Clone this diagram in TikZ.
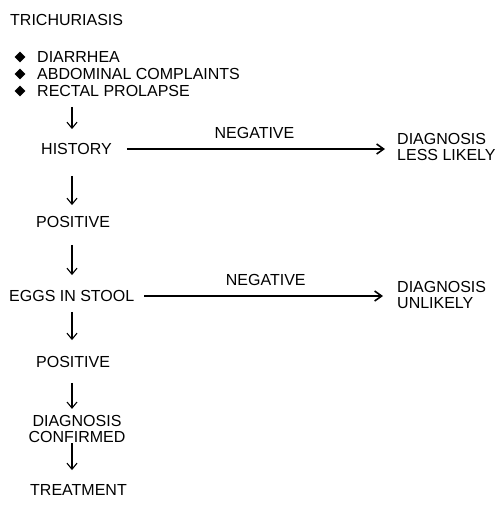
\documentclass[tikz,border=0pt]{standalone}
\usepackage{fontspec}
\setmainfont{Liberation Sans}
\usetikzlibrary{arrows.meta,shapes.geometric}

\tikzset{
  txt/.style={font=\fontsize{16}{16.5}\selectfont, inner sep=0pt,
    text height=11.5pt, text depth=0pt, anchor=west},
  twoline/.style={font=\fontsize{16}{16.5}\selectfont, inner sep=0pt, align=left, anchor=west},
  bullet/.style={diamond, fill=black, inner sep=0pt, minimum size=11pt},
  down/.style={-{Straight Barb[length=6pt,width=10pt]}, line width=1.1pt},
  side/.style={-{Straight Barb[length=7pt,width=10pt]}, line width=1.6pt},
}

\begin{document}
\begin{tikzpicture}[x=1pt, y=-1pt]
  \useasboundingbox (0,0) rectangle (499,509);
  \coordinate (col) at (72,0);

  \node[txt] (title) at (10,20) {TRICHURIASIS};

  \node[bullet] (b1) at (20,57) {};
  \node[bullet] (b2) at (20,74) {};
  \node[bullet] (b3) at (20,91) {};
  \node[txt] (s1) at (37,57) {DIARRHEA};
  \node[txt] (s2) at (37,74) {ABDOMINAL COMPLAINTS};
  \node[txt] (s3) at (37,91) {RECTAL PROLAPSE};

  \node[txt] (hist) at (41,149) {HISTORY};
  \node[twoline] (less) at (397,147) {DIAGNOSIS\\LESS LIKELY};
  \node[txt] (pos1) at (36,222) {POSITIVE};
  \node[txt] (eggs) at (9,296) {EGGS IN STOOL};
  \node[twoline] (unl) at (397,295) {DIAGNOSIS\\UNLIKELY};
  \node[txt] (pos2) at (36,362) {POSITIVE};
  \node[font=\fontsize{16}{16.5}\selectfont, inner sep=0pt, align=center]
    (conf) at (77,429) {DIAGNOSIS\\CONFIRMED};
  \node[txt] (treat) at (30,490) {TREATMENT};

  % main column
  \draw[down, shorten <=10pt, shorten >=14pt] (s3.south -| col) -- (hist.north -| col);
  \draw[down, shorten <=21pt, shorten >=11pt] (hist.south -| col) -- (pos1.north -| col);
  \draw[down, shorten <=17pt, shorten >=15pt] (pos1.south -| col) -- (eggs.north -| col);
  \draw[down, shorten <=10pt, shorten >=16pt] (eggs.south -| col) -- (pos2.north -| col);
  \draw[down, shorten <=15pt, shorten >=6pt] (pos2.south -| col) -- (conf.north -| col);
  \draw[down, shorten <=0pt, shorten >=14pt] (conf.south -| col) -- (treat.north -| col);

  % negative branches
  \draw[side, shorten <=15pt, shorten >=12pt] (hist.east) -- (hist.east -| less.west)
    node[midway, above=10pt, txt, anchor=south] {NEGATIVE};
  \draw[side, shorten <=10pt, shorten >=14pt] (eggs.east) -- (eggs.east -| unl.west)
    node[midway, above=10pt, txt, anchor=south] {NEGATIVE};
\end{tikzpicture}
\end{document}
